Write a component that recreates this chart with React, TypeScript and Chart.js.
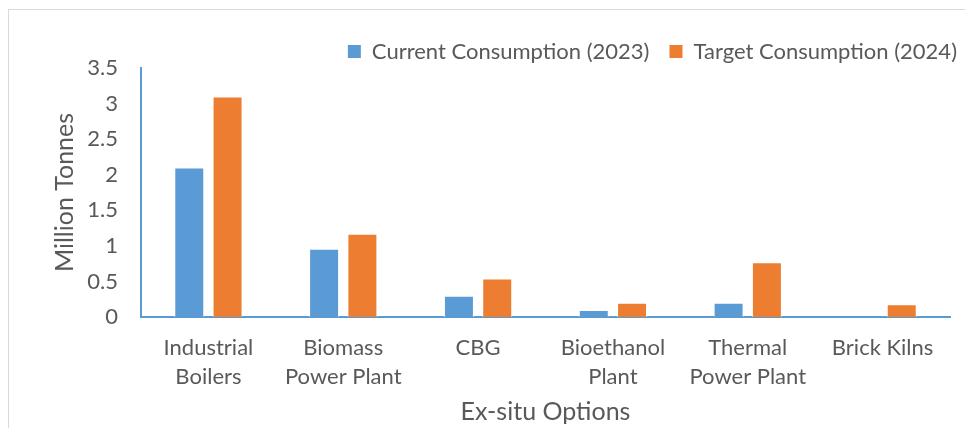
import React, { useEffect, useRef } from "react";
import { Chart, registerables } from "chart.js";

Chart.register(...registerables);

// ---- data ----
const CATEGORIES: string[][] = [
  ["Industrial", "Boilers"],
  ["Biomass", "Power Plant"],
  ["CBG"],
  ["Bioethanol", "Plant"],
  ["Thermal", "Power Plant"],
  ["Brick Kilns"],
];
const SERIES_NAMES = ["Current Consumption (2023)", "Target Consumption (2024)"];
const CURRENT = [2.1, 0.96, 0.3, 0.1, 0.2, 0];
const TARGET = [3.1, 1.17, 0.54, 0.2, 0.77, 0.18];
const Y_MIN = 0;
const Y_MAX = 3.5;
const Y_STEP = 0.5;
const Y_TITLE = "Million Tonnes";
const X_TITLE = "Ex-situ Options";

// ---- layout / style ----
const VIEW_W = 965;
const VIEW_H = 428;
const CANVAS_W = 977;
const AREA_LEFT = 141;
const AREA_RIGHT = 950;
const AREA_TOP = 68;
const AREA_BOTTOM = 317;
const PAD_TOP = 20.5;
const TEXT = "#595959";
const BLUE = "#5B9BD5";
const ORANGE = "#ED7D31";
const FONT = "Lato, 'Open Sans', sans-serif";

const legendHeightPlugin = {
  id: "legendHeight",
  beforeLayout(chart: any) {
    const lg: any = chart.legend;
    if (lg && !lg.__patched) {
      const orig = lg.fit.bind(lg);
      lg.fit = function () {
        orig();
        this.height = AREA_TOP - PAD_TOP;
      };
      lg.__patched = true;
    }
  },
};

export default function App() {
  const ref = useRef<HTMLCanvasElement | null>(null);

  useEffect(() => {
    if (!ref.current) return;
    const chart = new Chart(ref.current, {
      type: "bar",
      data: {
        labels: CATEGORIES,
        datasets: [
          {
            label: SERIES_NAMES[0],
            data: CURRENT,
            backgroundColor: BLUE,
            borderColor: "rgba(255,255,255,0.6)",
            borderWidth: 1,
            categoryPercentage: 0.568,
            barPercentage: 0.783,
          },
          {
            label: SERIES_NAMES[1],
            data: TARGET,
            backgroundColor: ORANGE,
            borderColor: "rgba(255,255,255,0.6)",
            borderWidth: 1,
            categoryPercentage: 0.568,
            barPercentage: 0.783,
          },
        ],
      },
      options: {
        responsive: false,
        animation: false,
        devicePixelRatio: 1,
        layout: { padding: { top: PAD_TOP, left: 0, right: 0, bottom: 0 } },
        plugins: {
          tooltip: { enabled: false },
          legend: {
            position: "top",
            align: "end",
            labels: {
              boxWidth: 13,
              boxHeight: 13,
              padding: 20,
              color: TEXT,
              font: { family: FONT, size: 22 },
              generateLabels: (c: any) =>
                Chart.defaults.plugins.legend.labels
                  .generateLabels(c)
                  .map((l: any) => ({ ...l, lineWidth: 0, strokeStyle: "transparent" })),
            },
          },
        },
        scales: {
          x: {
            grid: { display: false, drawTicks: false },
            border: { display: true, color: BLUE, width: 2 },
            ticks: {
              color: TEXT,
              font: { family: FONT, size: 22, lineHeight: 1.318 },
              padding: 16.5,
              maxRotation: 0,
              autoSkip: false,
            },
            title: {
              display: true,
              text: X_TITLE,
              color: TEXT,
              font: { family: FONT, size: 25, lineHeight: 1.2 },
              padding: { top: 0, bottom: 1 },
            },
            afterFit: (s: any) => {
              s.height = VIEW_H - AREA_BOTTOM;
            },
          },
          y: {
            min: Y_MIN,
            max: Y_MAX,
            grid: { display: false, drawTicks: false },
            border: { display: true, color: BLUE, width: 2 },
            ticks: {
              stepSize: Y_STEP,
              color: TEXT,
              font: { family: FONT, size: 22 },
              padding: 23,
              callback: (v: any) => String(Number(v)),
            },
            title: {
              display: true,
              text: Y_TITLE,
              color: TEXT,
              font: { family: FONT, size: 25, lineHeight: 1.2 },
              padding: { top: 50, bottom: 0 },
            },
            afterFit: (s: any) => {
              s.width = AREA_LEFT;
            },
          },
          yRight: {
            position: "right",
            display: true,
            grid: { display: false, drawTicks: false },
            border: { display: false },
            ticks: { display: false },
            afterFit: (s: any) => {
              s.width = CANVAS_W - AREA_RIGHT;
            },
          },
        },
      },
      plugins: [legendHeightPlugin],
    } as any);
    return () => chart.destroy();
  }, []);

  return (
    <div
      style={{
        position: "fixed",
        left: 0,
        top: 0,
        width: VIEW_W,
        height: VIEW_H,
        overflow: "hidden",
        background: "#ffffff",
      }}
    >
      <canvas
        ref={ref}
        width={CANVAS_W}
        height={VIEW_H}
        style={{ position: "absolute", left: 0, top: 0, width: CANVAS_W, height: VIEW_H }}
      />
      <div
        style={{
          position: "absolute",
          left: 8,
          top: 9,
          width: 2000,
          height: 2000,
          border: "1.5px solid #d9d9d9",
          pointerEvents: "none",
        }}
      />
    </div>
  );
}
